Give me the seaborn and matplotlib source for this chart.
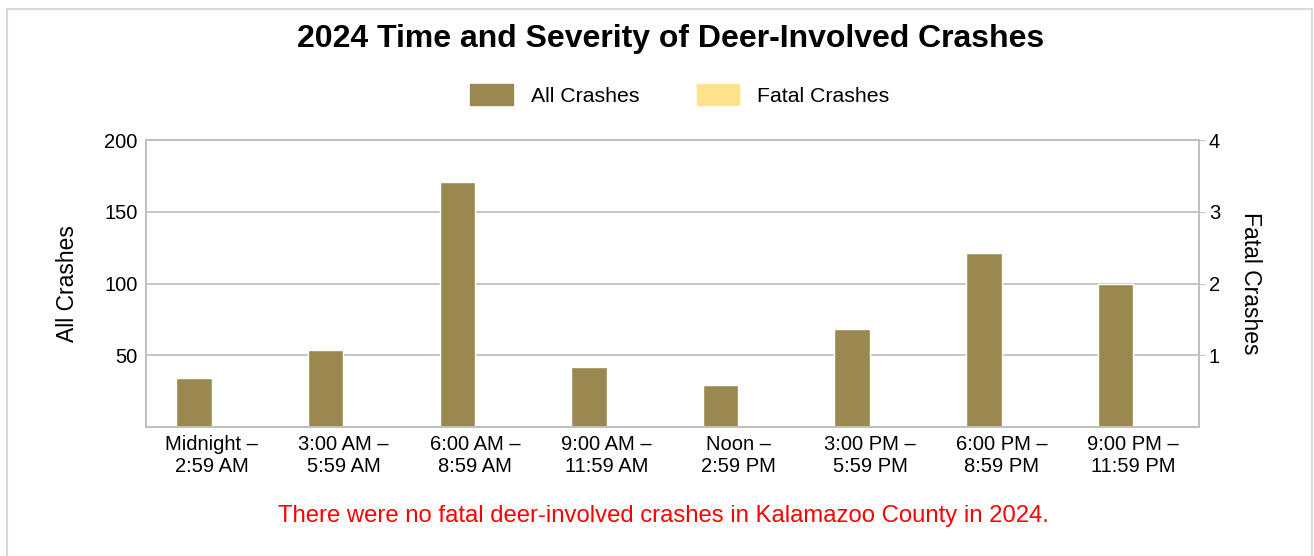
import pandas as pd
import matplotlib.pyplot as plt
import matplotlib.patches as mpatches
import seaborn as sns

# time of day buckets
periods = ["Midnight –\n2:59 AM", "3:00 AM –\n5:59 AM", "6:00 AM –\n8:59 AM",
           "9:00 AM –\n11:59 AM", "Noon –\n2:59 PM", "3:00 PM –\n5:59 PM",
           "6:00 PM –\n8:59 PM", "9:00 PM –\n11:59 PM"]

# crash counts
all_crashes = [34, 54, 171, 42, 29, 68, 121, 100]
fatal_crashes = [0, 0, 0, 0, 0, 0, 0, 0]

series_names = ["All Crashes", "Fatal Crashes"]
left_ticks = [50, 100, 150, 200]
right_ticks = [1, 2, 3, 4]

df = pd.DataFrame({"period": periods * 2,
                   "value": all_crashes + fatal_crashes,
                   "series": [series_names[0]] * 8 + [series_names[1]] * 8})

sns.set_style("white")
plt.rcParams['font.family'] = ['Liberation Sans', 'DejaVu Sans']
plt.rcParams['text.color'] = 'black'
plt.rcParams['axes.labelcolor'] = 'black'

colors = {"All Crashes": "#998951", "Fatal Crashes": "#FFE38A"}
grid_col = "#c0c0c0"

fig = plt.figure(figsize=(13.14, 5.56), dpi=100)
ax = fig.add_axes([0.1111, 0.232, 0.8014, 0.5162])

sns.barplot(data=df, x="period", y="value", hue="series", palette=colors,
            width=0.54, saturation=1, ax=ax, legend=False)

ax.set_ylim(0, 200)
ax.set_yticks(left_ticks)
ax.set_xlim(-0.5, len(periods) - 0.5)
ax.yaxis.grid(True, color=grid_col, linewidth=1.3)
ax.set_axisbelow(True)
ax.set_xlabel("")
ax.set_ylabel("All Crashes", fontsize=16.5, labelpad=18)
ax.tick_params(axis="both", labelsize=14.5, length=0, pad=6, labelcolor="black")
for s in ax.spines.values():
    s.set_color(grid_col)
    s.set_linewidth(1.3)

# second axis for fatal crashes (all zero)
ax2 = ax.twinx()
ax2.set_ylim(0, 4)
ax2.set_yticks(right_ticks)
ax2.set_ylabel("Fatal Crashes", fontsize=16.5, rotation=270, labelpad=30)
ax2.tick_params(axis="y", labelsize=14.5, length=4, color=grid_col, pad=3,
                labelcolor="black")
for s in ax2.spines.values():
    s.set_color(grid_col)
    s.set_linewidth(1.3)

fig.text(0.51, 0.93, "2024 Time and Severity of Deer-Involved Crashes",
         ha="center", va="center", fontsize=23, fontweight="bold")

handles = [mpatches.Patch(color=colors[n], label=n) for n in series_names]
fig.legend(handles=handles, loc="center", bbox_to_anchor=(0.5175, 0.829), ncol=2,
           frameon=False, fontsize=15.3, handlelength=2.0, handleheight=1.1,
           columnspacing=2.7, handletextpad=0.85)

fig.text(0.505, 0.072,
         "There were no fatal deer-involved crashes in Kalamazoo County in 2024.",
         ha="center", va="center", fontsize=17.2, color="#FF0000")

# light frame around the whole chart
fig.patches.append(mpatches.Rectangle((0.0055, -0.05), 0.993, 1.034,
                                      transform=fig.transFigure, fill=False,
                                      edgecolor="#d9d9d9", linewidth=1.5))

fig.savefig("out.png", dpi=100)
